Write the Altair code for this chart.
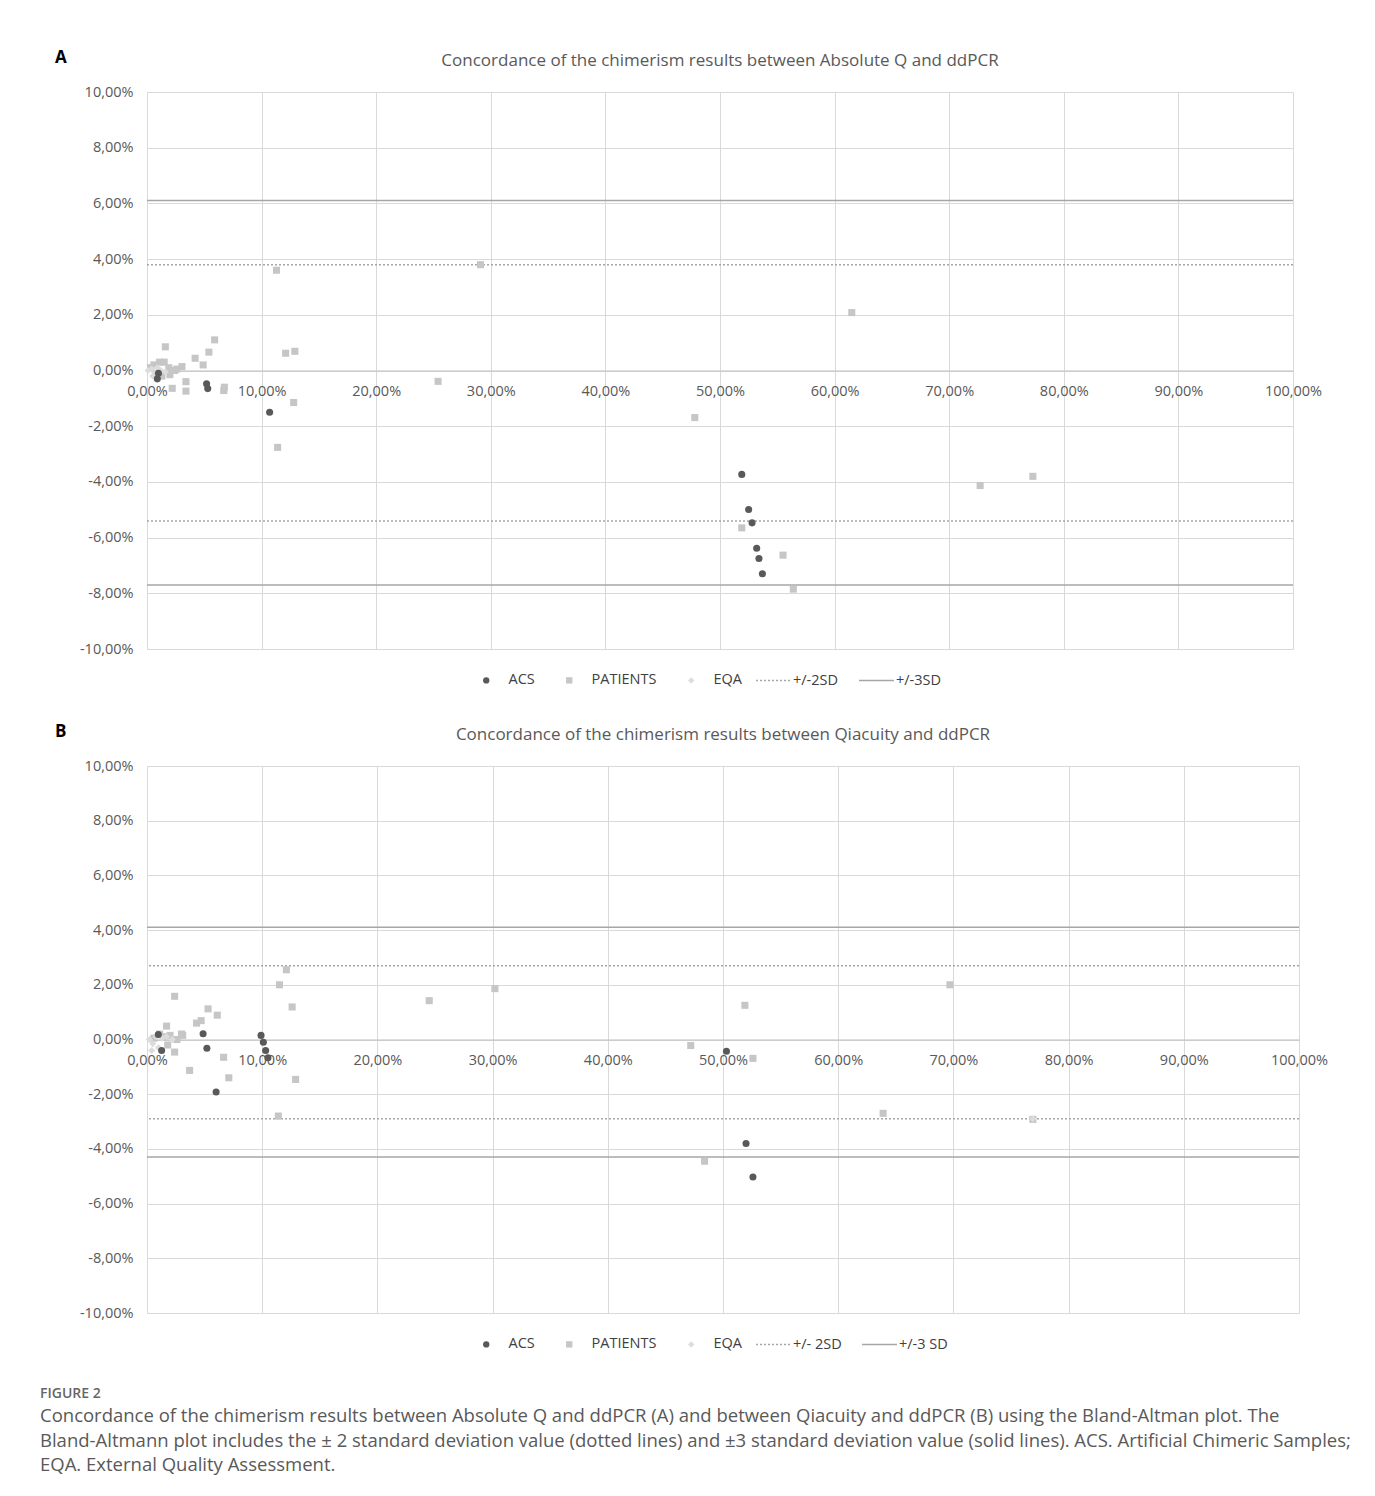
import altair as alt
import pandas as pd

# ---------------- Panel A: Absolute Q vs ddPCR ----------------
a_acs_x = [0.9, 1.0, 5.2, 5.3, 10.7, 51.9, 52.5, 52.8, 53.2, 53.4, 53.7]
a_acs_y = [-0.3, -0.1, -0.48, -0.65, -1.5, -3.73, -4.99, -5.47, -6.38, -6.75, -7.3]
a_pat_x = [1.6, 5.9, 5.4, 4.2, 4.9, 3.05, 3.4, 3.4, 2.2, 6.7, 6.75, 12.1, 12.9, 12.8, 11.4,
           11.3, 29.1, 25.4, 47.8, 51.9, 55.5, 56.4, 61.5, 72.7, 77.3,
           0.3, 0.6, 1.1, 1.5, 1.9, 2.4, 0.8, 1.3, 2.0, 2.6]
a_pat_y = [0.85, 1.1, 0.66, 0.44, 0.2, 0.14, -0.4, -0.74, -0.64, -0.72, -0.6, 0.62, 0.69, -1.15, -2.76,
           3.6, 3.8, -0.39, -1.69, -5.65, -6.63, -7.85, 2.08, -4.13, -3.8,
           0.1, 0.2, 0.3, 0.3, 0.1, 0.0, -0.1, -0.2, -0.15, 0.05]
a_eqa_x = [0.1, 0.4, 0.7, 0.9, 1.2, 1.6, 0.5]
a_eqa_y = [0.0, 0.05, -0.1, 0.1, 0.0, -0.05, -0.2]
a_sd2 = [3.8, -5.4]
a_sd3 = [6.1, -7.7]

# ---------------- Panel B: Qiacuity vs ddPCR ----------------
b_acs_x = [0.98, 1.27, 4.87, 5.2, 6.0, 9.9, 10.1, 10.3, 10.5, 50.3, 52.0, 52.6]
b_acs_y = [0.18, -0.4, 0.21, -0.32, -1.92, 0.15, -0.1, -0.4, -0.67, -0.43, -3.8, -5.03]
b_pat_x = [2.4, 5.3, 6.1, 4.7, 4.3, 3.1, 1.7, 2.4, 3.7, 6.65, 7.1, 12.6, 12.9, 11.4, 12.1, 11.5,
           24.5, 30.2, 47.2, 51.9, 52.6, 48.4, 63.9, 69.7, 76.9,
           0.6, 1.1, 1.5, 2.0, 2.6, 1.8, 3.0]
b_pat_y = [1.58, 1.12, 0.89, 0.69, 0.6, 0.15, 0.49, -0.46, -1.13, -0.65, -1.4, 1.19, -1.46, -2.8, 2.55, 2.0,
           1.42, 1.86, -0.22, 1.25, -0.69, -4.45, -2.7, 2.0, -2.92,
           0.05, 0.2, 0.1, 0.15, 0.0, -0.2, 0.2]
b_eqa_x = [0.2, 0.5, 0.8, 1.0, 1.3, 1.7, 2.2, 0.4, 76.9]
b_eqa_y = [0.0, -0.15, 0.1, -0.3, 0.05, 0.1, 0.0, -0.4, -2.9]
b_sd2 = [2.7, -2.9]
b_sd3 = [4.1, -4.3]

x_ticks = [0, 10, 20, 30, 40, 50, 60, 70, 80, 90, 100]
y_ticks = [-10, -8, -6, -4, -2, 0, 2, 4, 6, 8, 10]
series = ["ACS", "PATIENTS", "EQA"]
series_colors = ["#595959", "#c6c6c6", "#dcdcdc"]
series_shapes = ["circle", "square", "diamond"]

title_a = "Concordance of the chimerism results between Absolute Q and ddPCR"
title_b = "Concordance of the chimerism results between Qiacuity and ddPCR"
caption_head = "FIGURE 2"
caption_lines = [
    "Concordance of the chimerism results between Absolute Q and ddPCR (A) and between Qiacuity and ddPCR (B) using the Bland-Altman plot. The",
    "Bland-Altmann plot includes the \u00b1 2 standard deviation value (dotted lines) and \u00b13 standard deviation value (solid lines). ACS. Artificial Chimeric Samples;",
    "EQA. External Quality Assessment.",
]

PCT = "(datum.value < 0 ? '-' : '') + replace(format(abs(datum.value), '.2f'), '.', ',') + '%'"
FONT = "Open Sans"
LFS = 14.5


def panel(letter, title, acs, pat, eqa, sd2, sd3, sd_labels, w, h, legend_y, leg_x1, leg_x2):
    rows = []
    for name, (xs, ys) in (("PATIENTS", pat), ("EQA", eqa), ("ACS", acs)):
        for xv, yv in zip(xs, ys):
            rows.append({"x": xv, "y": yv, "series": name})
    pts = pd.DataFrame(rows)
    lines = pd.DataFrame(
        [{"y": v, "sd": sd_labels[0]} for v in sd2] + [{"y": v, "sd": sd_labels[1]} for v in sd3]
    )
    yaxis = alt.Axis(values=y_ticks, labelExpr=PCT, grid=True, domain=False, ticks=False,
                     labelPadding=14, title=None)
    xaxis = alt.Axis(values=x_ticks, labelExpr=PCT, grid=True, domain=True, domainColor="#bfbfbf",
                     ticks=False, offset=-h / 2, labelPadding=14, title=None, labelFlush=False)
    yenc = alt.Y("y:Q", scale=alt.Scale(domain=[-10, 10], nice=False, zero=False), axis=yaxis)
    pleg = alt.Legend(orient="none", legendX=leg_x1, legendY=legend_y,
                      direction="horizontal", title=None, labelFont=FONT, labelFontSize=LFS,
                      labelColor="#404040", symbolSize=40, columnPadding=27, labelOffset=15,
                      padding=0)
    points = alt.Chart(pts).mark_point(filled=True, opacity=1, size=50).encode(
        x=alt.X("x:Q", scale=alt.Scale(domain=[0, 100], nice=False), axis=xaxis),
        y=yenc,
        color=alt.Color("series:N", scale=alt.Scale(domain=series, range=series_colors), legend=pleg),
        shape=alt.Shape("series:N", scale=alt.Scale(domain=series, range=series_shapes), legend=pleg),
    )
    lleg = alt.Legend(orient="none", legendX=leg_x2, legendY=legend_y - 11,
                      direction="horizontal", title=None, labelFont=FONT, labelFontSize=LFS,
                      labelColor="#404040", symbolType="stroke", symbolSize=1225,
                      symbolStrokeColor="#a6a6a6", symbolStrokeWidth=1.5, labelOffset=1,
                      columnPadding=17, padding=0)
    rules = alt.Chart(lines).mark_rule(color="#a6a6a6", strokeWidth=1.5).encode(
        y=yenc,
        strokeDash=alt.StrokeDash("sd:N", scale=alt.Scale(domain=sd_labels, range=[[2, 2], [1, 0]]),
                                  legend=lleg),
    )
    lab = alt.Chart(pd.DataFrame({"t": [letter]})).mark_text(
        font=FONT, fontSize=17, fontWeight="bold", color="#000000", align="left", baseline="middle"
    ).encode(x=alt.value(-92), y=alt.value(-34), text="t:N")
    ttl = alt.Chart(pd.DataFrame({"t": [title]})).mark_text(
        font=FONT, fontSize=17, color="#595959", align="center", baseline="middle"
    ).encode(x=alt.value(w / 2), y=alt.value(-31), text="t:N")
    return alt.layer(rules, points, lab, ttl).properties(width=w, height=h)


pa = panel("A", title_a, (a_acs_x, a_acs_y), (a_pat_x, a_pat_y), (a_eqa_x, a_eqa_y), a_sd2, a_sd3,
           ["+/-2SD", "+/-3SD"], 1146, 557, 581, 332, 608)
pb = panel("B", title_b, (b_acs_x, b_acs_y), (b_pat_x, b_pat_y), (b_eqa_x, b_eqa_y), b_sd2, b_sd3,
           ["+/- 2SD", "+/-3 SD"], 1152, 547, 571, 332, 608)

chart = alt.vconcat(pa, pb, spacing=36).resolve_scale(
    color="independent", shape="independent", strokeDash="independent"
).properties(
    padding={"left": 32, "top": 41, "right": 10, "bottom": 10},
    title=alt.TitleParams(caption_head, subtitle=caption_lines, orient="bottom", anchor="start",
                          frame="bounds", dx=-15, offset=36, font=FONT, fontSize=14,
                          fontWeight=600, color="#666666", subtitleFont=FONT,
                          subtitleFontSize=18.5, subtitleColor="#595959", subtitleLineHeight=24.5,
                          subtitlePadding=6),
).configure_view(stroke=None).configure_axis(
    labelFont=FONT, labelFontSize=LFS, labelColor="#595959", gridColor="#d9d9d9", gridWidth=1
)

chart.save("out.html", embed_options={"renderer": "svg", "actions": False})
